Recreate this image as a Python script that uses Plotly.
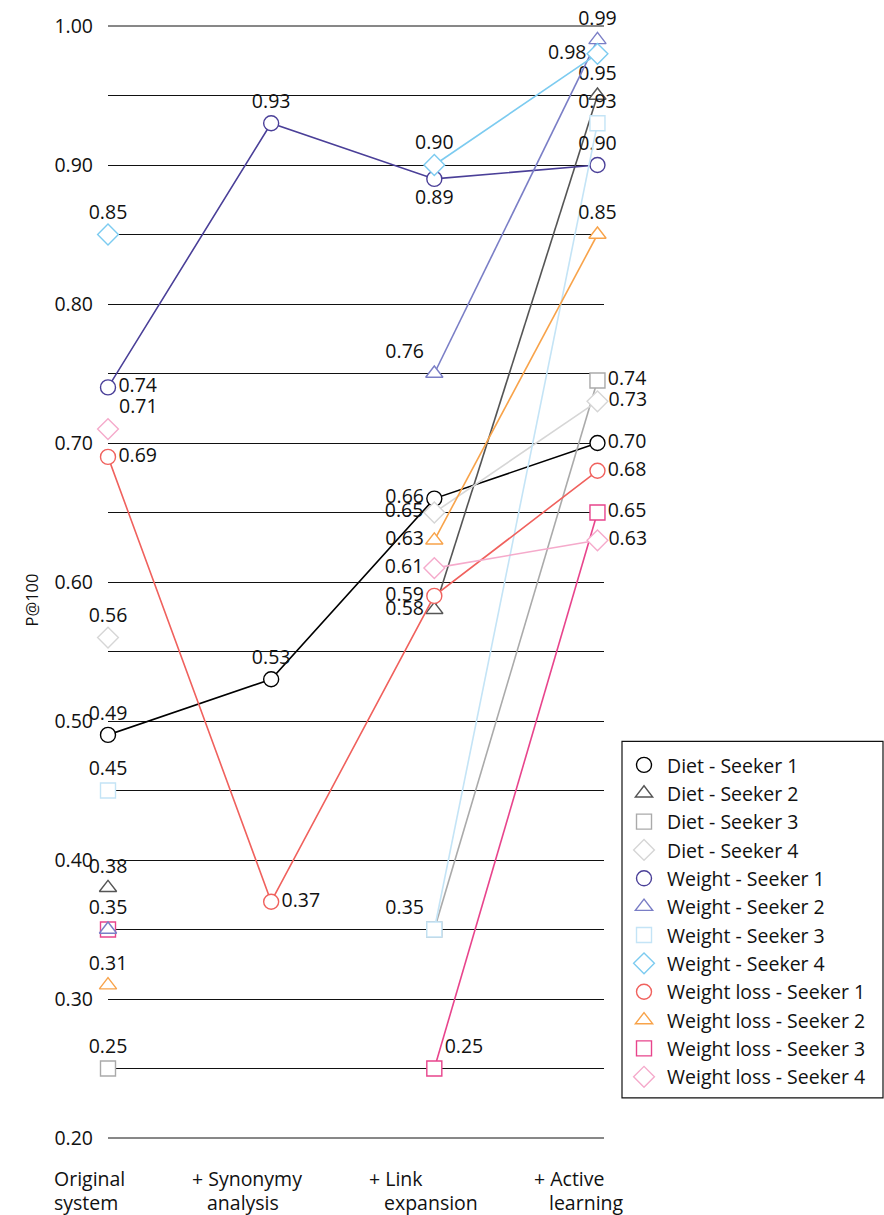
import plotly.graph_objects as go

# ---------------- data ----------------
cat_line1 = ["Original", "+ Synonymy", "+ Link", "+ Active"]
cat_line2 = ["system", "analysis", "expansion", "learning"]
x_idx = [0, 1, 2, 3]

series_names = [
    "Diet - Seeker 1", "Diet - Seeker 2", "Diet - Seeker 3", "Diet - Seeker 4",
    "Weight - Seeker 1", "Weight - Seeker 2", "Weight - Seeker 3", "Weight - Seeker 4",
    "Weight loss - Seeker 1", "Weight loss - Seeker 2", "Weight loss - Seeker 3", "Weight loss - Seeker 4",
]

diet_s1 = [0.49, 0.53, 0.66, 0.70]
diet_s2 = [0.38, None, 0.58, 0.95]
diet_s3 = [0.25, None, 0.35, 0.745]
diet_s4 = [0.56, None, 0.65, 0.73]
weight_s1 = [0.74, 0.93, 0.89, 0.90]
weight_s2 = [0.35, None, 0.75, 0.99]
weight_s3 = [0.45, None, 0.35, 0.93]
weight_s4 = [0.85, None, 0.90, 0.98]
wloss_s1 = [0.69, 0.37, 0.59, 0.68]
wloss_s2 = [0.31, None, 0.63, 0.85]
wloss_s3 = [0.35, None, 0.25, 0.65]
wloss_s4 = [0.71, None, 0.61, 0.63]

values = [diet_s1, diet_s2, diet_s3, diet_s4,
          weight_s1, weight_s2, weight_s3, weight_s4,
          wloss_s1, wloss_s2, wloss_s3, wloss_s4]

# point labels as printed on the chart
labels = [
    ["0.49", "0.53", "0.66", "0.70"],
    ["0.38", "", "0.58", "0.95"],
    ["0.25", "", "0.35", "0.74"],
    ["0.56", "", "0.65", "0.73"],
    ["0.74", "0.93", "0.89", "0.90"],
    ["0.35", "", "0.76", "0.99"],
    ["0.45", "", "", "0.93"],
    ["0.85", "", "0.90", "0.98"],
    ["0.69", "0.37", "0.59", "0.68"],
    ["0.31", "", "0.63", "0.85"],
    ["", "", "0.25", "0.65"],
    ["0.71", "", "0.61", "0.63"],
]

y_ticks = [0.20, 0.25, 0.30, 0.35, 0.40, 0.45, 0.50, 0.55, 0.60, 0.65, 0.70,
           0.75, 0.80, 0.85, 0.90, 0.95, 1.00]
y_ticktext = ["0.20", "", "0.30", "", "0.40", "", "0.50", "", "0.60", "", "0.70",
              "", "0.80", "", "0.90", "", "1.00"]

# ---------------- styles ----------------
colors = ["#000000", "#555555", "#aaaaaa", "#d6d6d6",
          "#4a3f98", "#7a7ec6", "#c4e4f6", "#7ccbf0",
          "#f0615d", "#f8a34a", "#e8448c", "#f5aacb"]
symbols = ["circle", "triangle-up", "square", "diamond"] * 3
sizes = [15, 15, 15, 16] * 3
text_pos = [
    ["top center", "top center", "middle left", "middle right"],
    ["top center", "top center", "middle left", "top center"],
    ["top center", "top center", "top left", "middle right"],
    ["top center", "top center", "middle left", "middle right"],
    ["middle right", "top center", "bottom center", "top center"],
    ["top center", "top center", "top left", "top center"],
    ["top center", "top center", "top left", "top center"],
    ["top center", "top center", "top center", "middle left"],
    ["middle right", "middle right", "middle left", "middle right"],
    ["top center", "top center", "middle left", "top center"],
    ["top center", "top center", "top right", "middle right"],
    ["top right", "top center", "middle left", "middle right"],
]
draw_order = [10, 0, 1, 2, 3, 4, 5, 6, 7, 8, 9, 11]

FONT = "Open Sans"
fs = 19.5
TXT = "#111111"
GRID = "#111111"

fig = go.Figure()

# gridlines at the two range ends (plotly hides grid lines on the plot edge)
for yv in (y_ticks[0], y_ticks[-1]):
    fig.add_shape(type="line", xref="paper", yref="y", x0=0, x1=1, y0=yv, y1=yv,
                  line=dict(color=GRID, width=1), layer="below")

for i in draw_order:
    fig.add_trace(go.Scatter(
        x=x_idx, y=values[i], mode="lines+markers+text",
        text=labels[i], textposition=text_pos[i],
        textfont=dict(family=FONT, size=fs, color=TXT),
        line=dict(color=colors[i], width=1.6),
        marker=dict(symbol=symbols[i], size=sizes[i], color="white",
                    line=dict(color=colors[i], width=1.4)),
        connectgaps=False, cliponaxis=False, showlegend=False, name=series_names[i],
    ))
# legend-only entries (markers only)
for i, name in enumerate(series_names):
    fig.add_trace(go.Scatter(
        x=[None], y=[None], mode="markers", name=name,
        marker=dict(symbol=symbols[i], size=sizes[i], color="white",
                    line=dict(color=colors[i], width=1.4)),
    ))

# category labels (two lines, left aligned with hanging indent)
shift1 = [-56, -81, -67, -65]
shift2 = [-56, -66, -52, -50]
for i in range(4):
    fig.add_annotation(x=x_idx[i], y=-0.0351, xref="x", yref="paper",
                       text=cat_line1[i], showarrow=False, xanchor="left",
                       yanchor="middle", xshift=shift1[i],
                       font=dict(family=FONT, size=fs, color=TXT))
    fig.add_annotation(x=x_idx[i], y=-0.0567, xref="x", yref="paper",
                       text=cat_line2[i], showarrow=False, xanchor="left",
                       yanchor="middle", xshift=shift2[i],
                       font=dict(family=FONT, size=fs, color=TXT))

# y-axis title
fig.add_annotation(x=(18 - 108) / 496, y=(1138 - 600) / 1112, xref="paper", yref="paper",
                   text="P@100", textangle=-90, showarrow=False,
                   font=dict(family=FONT, size=16.5, color=TXT))

# legend frame
fig.add_shape(type="rect", xref="paper", yref="paper",
              x0=(622 - 108) / 496, x1=(883 - 108) / 496,
              y0=(1138 - 1097) / 1112, y1=(1138 - 741) / 1112,
              line=dict(color=GRID, width=1.2), fillcolor="rgba(0,0,0,0)")

fig.update_layout(
    width=884, height=1215,
    margin=dict(l=108, r=280, t=25, b=76),
    paper_bgcolor="white", plot_bgcolor="white",
    font=dict(family=FONT, size=fs, color=TXT),
    xaxis=dict(range=[0, 3.04], showticklabels=False, showgrid=False,
               zeroline=False, showline=False, ticks=""),
    yaxis=dict(range=[0.19928, 1.00072], tickvals=y_ticks, ticktext=y_ticktext,
               showgrid=True, gridcolor=GRID, gridwidth=1,
               zeroline=False, showline=False, ticks="", ticklabelstandoff=14,
               tickfont=dict(family=FONT, size=fs)),
    legend=dict(x=(622 - 108) / 496 - 0.002, y=(1138 - 741) / 1112 - 0.004,
                xanchor="left", yanchor="top", borderwidth=0, itemwidth=36,
                bgcolor="rgba(0,0,0,0)", traceorder="normal",
                font=dict(family=FONT, size=fs)),
    showlegend=True,
)

fig.write_html("out.html", config={"displayModeBar": False},
               post_script="document.body.style.margin='0';document.body.style.overflow='hidden';")
